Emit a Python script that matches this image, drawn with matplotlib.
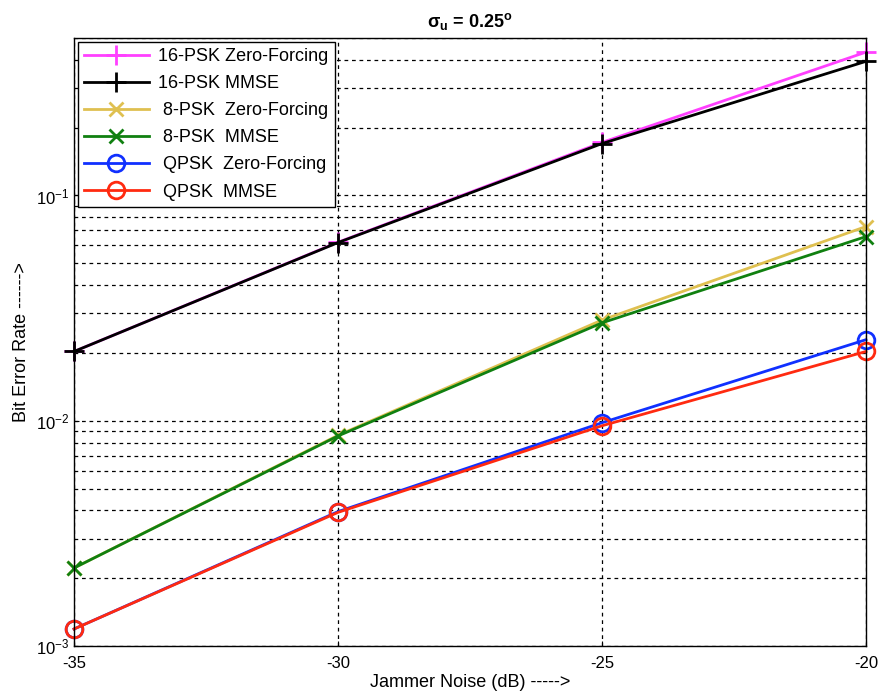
import matplotlib
matplotlib.use("Agg")
import matplotlib.pyplot as plt
import numpy as np

plt.rcParams['font.family'] = ['Liberation Sans', 'DejaVu Sans']
plt.rcParams['mathtext.fontset'] = 'custom'
plt.rcParams['mathtext.rm'] = 'Liberation Sans'
plt.rcParams['mathtext.bf'] = 'Liberation Sans:bold'

# jammer noise levels (dB)
jammer_db = [-35, -30, -25, -20]

# bit error rates per scheme
ber_16psk_zf = [0.0203, 0.0620, 0.172, 0.433]
ber_16psk_mmse = [0.0203, 0.0618, 0.170, 0.394]
ber_8psk_zf = [0.00222, 0.00862, 0.0280, 0.0728]
ber_8psk_mmse = [0.00222, 0.00856, 0.0272, 0.0657]
ber_qpsk_zf = [0.00119, 0.00395, 0.0098, 0.0229]
ber_qpsk_mmse = [0.00119, 0.00392, 0.0095, 0.0203]

labels = ['16-PSK Zero-Forcing', '16-PSK MMSE', ' 8-PSK  Zero-Forcing',
          ' 8-PSK  MMSE', ' QPSK  Zero-Forcing', ' QPSK  MMSE']

fig = plt.figure(figsize=(8.79, 6.99), dpi=100)
ax = fig.add_axes([0.0842, 0.0758, 0.901, 0.8698])

lw = 2
common = dict(lw=lw, mew=2, clip_on=False)
ax.semilogy(jammer_db, ber_16psk_zf, color='#ff40ff', marker='+', ms=15, label=labels[0], **common)
ax.semilogy(jammer_db, ber_16psk_mmse, color='black', marker='+', ms=15, label=labels[1], **common)
ax.semilogy(jammer_db, ber_8psk_zf, color='#dfc050', marker='x', ms=10, label=labels[2], **common)
ax.semilogy(jammer_db, ber_8psk_mmse, color='#108010', marker='x', ms=10, label=labels[3], **common)
ax.semilogy(jammer_db, ber_qpsk_zf, color='#1030ff', marker='o', ms=12, mfc='none', label=labels[4], **common)
ax.semilogy(jammer_db, ber_qpsk_mmse, color='#ff2a10', marker='o', ms=12, mfc='none', label=labels[5], **common)

ax.set_xlim(-35, -20)
ax.set_ylim(1e-3, 0.5)
ax.set_xticks([-35, -30, -25, -20])
ax.set_xticklabels(['-35', '-30', '-25', '-20'])

ax.grid(True, which='major', color='black', linestyle=(0, (3, 3)), linewidth=0.9)
ax.grid(True, which='minor', axis='y', color='black', linestyle=(0, (3, 3)), linewidth=0.9)
ax.tick_params(which='both', direction='in', labelsize=12)
ax.tick_params(axis='x', pad=7)
for s in ax.spines.values():
    s.set_linewidth(1.0)

ax.set_xlabel('Jammer Noise (dB) ----->', fontsize=13, labelpad=2)
ax.set_ylabel('Bit Error Rate ------>', fontsize=13, labelpad=4)
ax.set_title(r'$\mathbf{\sigma_u}$ = 0.25$\mathbf{^o}$', fontsize=13, fontweight='bold', pad=8)

leg = ax.legend(loc='upper left', fontsize=13, handlelength=3.6, labelspacing=0.56,
                borderaxespad=0.2, fancybox=False, framealpha=1, edgecolor='black',
                handletextpad=0.5, borderpad=0.35)
leg.get_frame().set_linewidth(1.0)
leg.set_zorder(5)

fig.savefig('out.png', dpi=100)
